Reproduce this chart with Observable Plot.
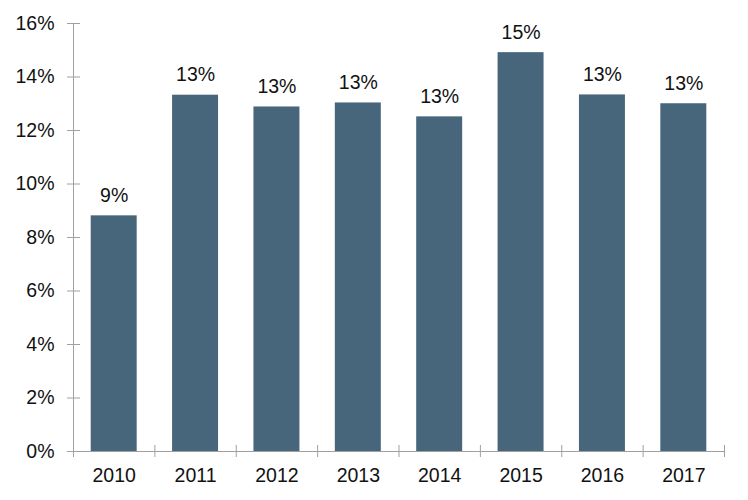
<!DOCTYPE html>
<html>
<head>
<meta charset="utf-8">
<script src="https://cdn.jsdelivr.net/npm/d3@7"></script>
<script src="https://cdn.jsdelivr.net/npm/@observablehq/plot@0.6"></script>
<style>
  html, body { margin: 0; padding: 0; background: #fff; }
  #chart svg { display: block; }
</style>
</head>
<body>
<div id="chart"></div>
<script>
const years = [2010, 2011, 2012, 2013, 2014, 2015, 2016, 2017];
const shares = [0.0881, 0.1332, 0.1288, 0.1303, 0.1251, 0.1491, 0.1333, 0.1300];
const yTicks = [0, 0.02, 0.04, 0.06, 0.08, 0.10, 0.12, 0.14, 0.16];
const xBoundaries = [2009.5, 2010.5, 2011.5, 2012.5, 2013.5, 2014.5, 2015.5, 2016.5, 2017.5];

const data = years.map((year, i) => ({year, value: shares[i]}));
const pct = d3.format(".0%");
const barColor = "#48667b";
const axisColor = "#a0a0a0";
const fs = 19.5;

const chart = Plot.plot({
  width: 748,
  height: 500,
  marginLeft: 73,
  marginRight: 24,
  marginTop: 23,
  marginBottom: 49,
  style: {fontFamily: "'Liberation Sans', Arial, sans-serif", fontSize: fs + "px", color: "#111", background: "#fff"},
  x: {domain: [2009.5, 2017.5], label: null},
  y: {domain: [0, 0.16], label: null},
  marks: [
    Plot.rectY(data, {
      x1: d => d.year - 0.5,
      x2: d => d.year + 0.5,
      y: "value",
      fill: barColor,
      insetLeft: 17.7,
      insetRight: 17.7
    }),
    Plot.text(data, {
      x: "year",
      y: "value",
      text: d => pct(d.value),
      dy: -20,
      fontSize: fs,
      fill: "#111"
    }),
    // y axis: ticks crossing the axis line
    Plot.axisY({ticks: yTicks, tickSize: 13, dx: 7, tickFormat: () => "", stroke: axisColor, label: null}),
    Plot.axisY({ticks: yTicks, tickSize: 0, tickPadding: 19, tickFormat: pct, fill: "#111", fontSize: fs, label: null}),
    Plot.ruleX([2009.5], {stroke: axisColor}),
    // x axis
    Plot.ruleY([0], {stroke: axisColor}),
    Plot.axisX({ticks: xBoundaries, tickSize: 12, dy: -6, tickFormat: () => "", stroke: axisColor, label: null}),
    Plot.axisX({ticks: years, tickSize: 0, tickPadding: 17, tickFormat: d => String(d), fill: "#111", fontSize: fs, label: null})
  ]
});
document.getElementById("chart").appendChild(chart);
</script>
</body>
</html>
